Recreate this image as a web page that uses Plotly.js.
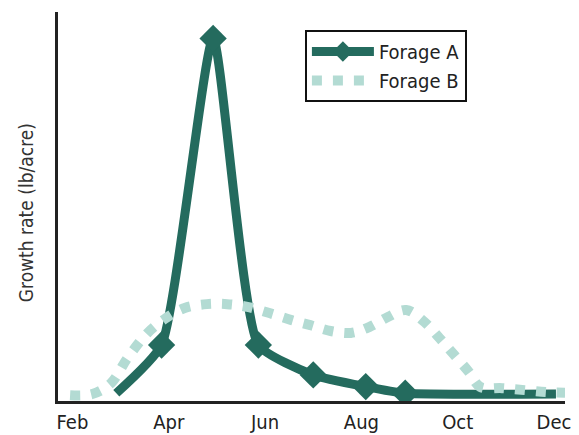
<!DOCTYPE html>
<html>
<head>
<meta charset="utf-8">
<script src="https://cdn.plot.ly/plotly-3.0.1.min.js"></script>
<style>html,body{margin:0;padding:0;background:#fff;}#chart{width:579px;height:435px;}</style>
</head>
<body>
<div id="chart"></div>
<script>
// Month numbers (Feb = 2 ... Dec = 12)
const tickVals = [2, 4, 6, 8, 10, 12];
const tickLabels = ["Feb", "Apr", "Jun", "Aug", "Oct", "Dec"];

// Forage A (relative growth rate, 0-100 scale)
const forageAMonths = [2.91, 3.85, 4.92, 5.86, 7.0, 8.09, 8.91, 12.04];
const forageAValues = [2.0, 14.4, 93.2, 14.4, 6.7, 3.7, 2.0, 1.8];

// Forage B
const forageBMonths = [1.95, 2.41, 2.80, 3.14, 3.56, 3.94, 4.33, 4.79, 5.21, 5.63, 6.09, 6.55, 6.94, 7.36, 7.78, 8.16, 8.55, 8.93, 9.31, 9.62, 9.93, 10.23, 10.47, 10.92, 11.39, 11.84, 12.23];
const forageBValues = [1.5, 1.8, 4.6, 11.0, 17.5, 21.3, 23.9, 24.9, 24.9, 24.2, 22.6, 20.8, 19.5, 18.0, 17.5, 19.0, 21.6, 23.4, 20.3, 16.2, 11.8, 7.5, 3.6, 3.3, 2.8, 2.3, 2.1];

const FONT = "DejaVu Sans Condensed, Liberation Sans Narrow, Arial Narrow, sans-serif";
const lastA = forageAMonths.length - 1;

const traces = [
  {
    name: "Forage A",
    x: forageAMonths,
    y: forageAValues,
    type: "scatter",
    mode: "lines+markers",
    line: {color: "#246b5e", width: 9, shape: "spline", smoothing: 0.5},
    marker: {
      symbol: "diamond",
      color: "#246b5e",
      opacity: 1,
      size: forageAMonths.map((_, i) => (i === 0 || i === lastA) ? 0 : 21),
      line: {width: 0}
    }
  },
  {
    name: "Forage B",
    x: forageBMonths,
    y: forageBValues,
    type: "scatter",
    mode: "lines",
    line: {color: "#b3dbd3", width: 10, shape: "spline", smoothing: 1, dash: "10px,11px"}
  }
];

const layout = {
  width: 579,
  height: 435,
  margin: {l: 58, r: 14, t: 12, b: 34},
  paper_bgcolor: "#ffffff",
  plot_bgcolor: "#ffffff",
  font: {family: FONT, color: "#222222", size: 20},
  showlegend: true,
  legend: {
    x: 0.487, y: 0.954, xanchor: "left", yanchor: "top",
    bgcolor: "#ffffff",
    bordercolor: "#111111",
    borderwidth: 2,
    font: {family: FONT, size: 20, color: "#222222"},
    itemwidth: 62
  },
  xaxis: {
    range: [1.699, 12.228],
    tickvals: tickVals,
    ticktext: tickLabels,
    showgrid: false,
    zeroline: false,
    showline: true,
    linecolor: "#222222",
    linewidth: 3,
    ticks: "",
    ticklabelstandoff: 1,
    tickfont: {family: FONT, size: 20, color: "#222222"},
    fixedrange: true
  },
  yaxis: {
    range: [0, 100],
    showgrid: false,
    zeroline: false,
    showline: true,
    linecolor: "#222222",
    linewidth: 3,
    ticks: "",
    showticklabels: false,
    fixedrange: true
  },
  annotations: [
    {
      text: "Growth rate (lb/acre)",
      xref: "paper", yref: "paper",
      x: -0.063, y: 0.483,
      xanchor: "center", yanchor: "middle",
      textangle: -90,
      showarrow: false,
      font: {family: FONT, size: 19, color: "#333333"}
    }
  ]
};

Plotly.newPlot("chart", traces, layout, {displayModeBar: false, staticPlot: true});
</script>
</body>
</html>
